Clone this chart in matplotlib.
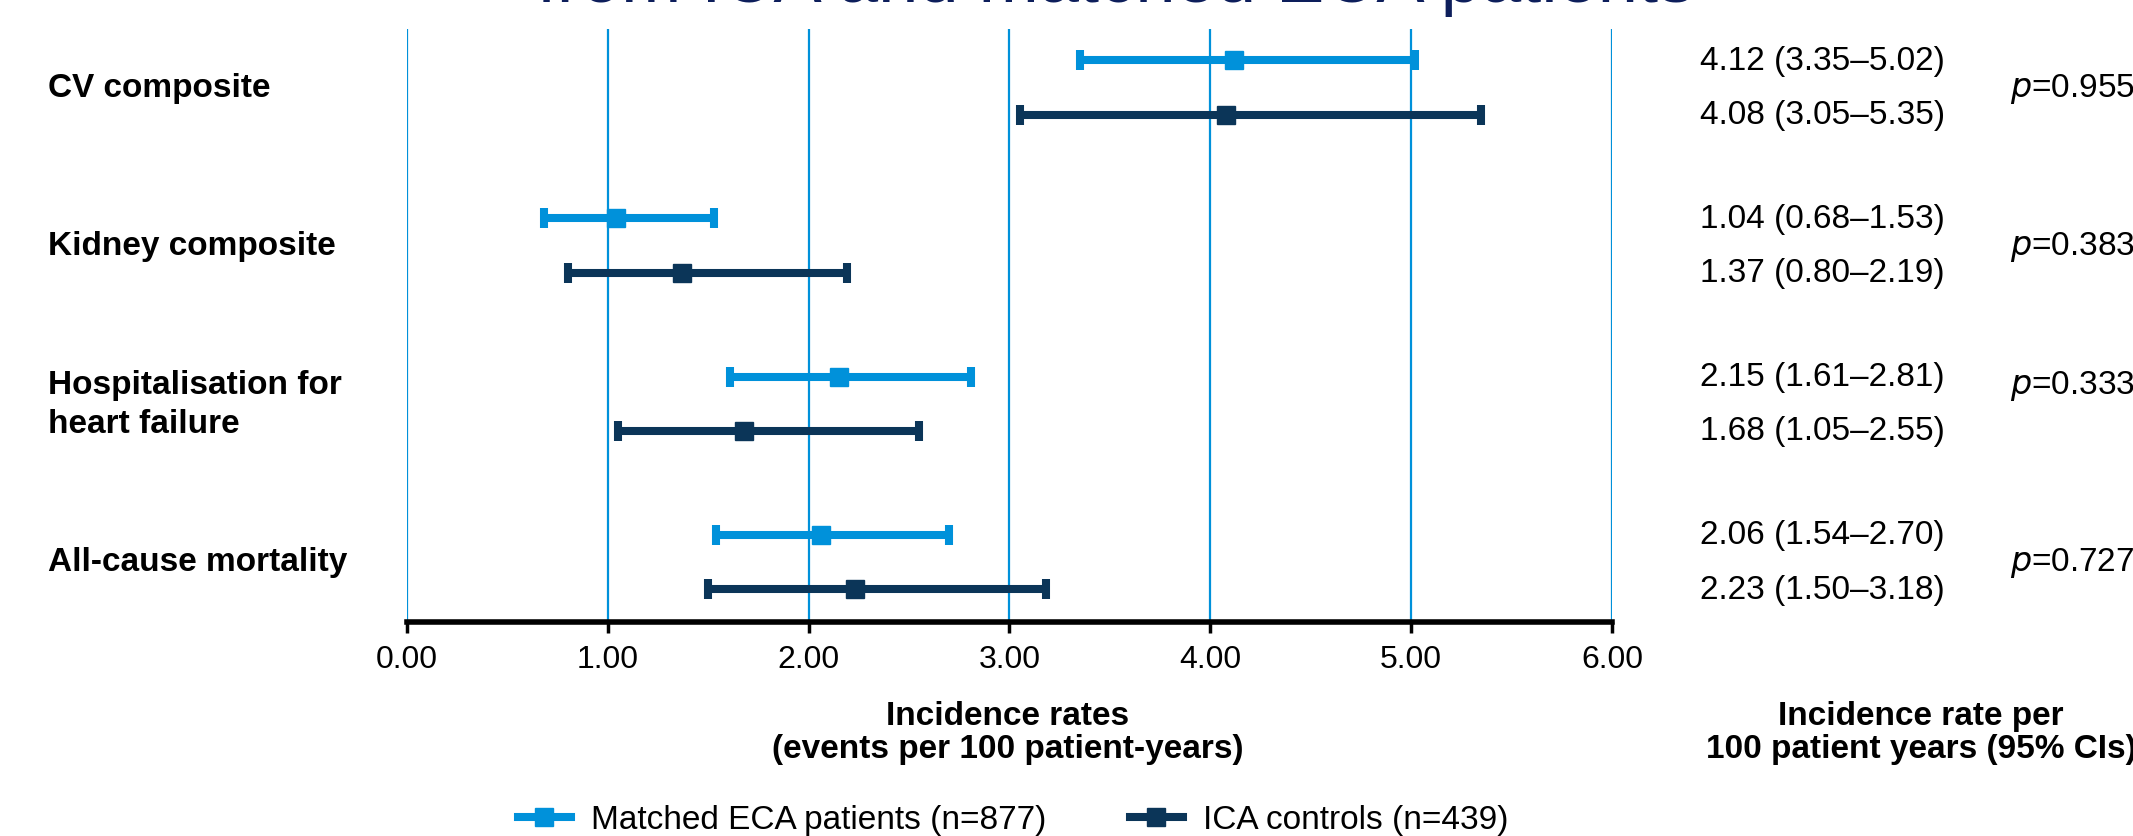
import matplotlib
matplotlib.use("Agg")
import matplotlib.pyplot as plt
import matplotlib.transforms as mtransforms
from matplotlib.lines import Line2D

plt.rcParams['font.family'] = ['Liberation Sans', 'DejaVu Sans']

# ---------------- data ----------------
categories = ["CV composite", "Kidney composite", "Hospitalisation for\nheart failure", "All-cause mortality"]
eca_rate = [4.12, 1.04, 2.15, 2.06]
eca_lo = [3.35, 0.68, 1.61, 1.54]
eca_hi = [5.02, 1.53, 2.81, 2.70]
ica_rate = [4.08, 1.37, 1.68, 2.23]
ica_lo = [3.05, 0.80, 1.05, 1.50]
ica_hi = [5.35, 2.19, 2.55, 3.18]
p_values = ["0.955", "0.383", "0.333", "0.727"]
x_ticks = [0, 1, 2, 3, 4, 5, 6]
eca_label = "Matched ECA patients (n=877)"
ica_label = "ICA controls (n=439)"
title_text = "from ICA and matched ECA patients"

# ---------------- style ----------------
BLUE = '#0091DA'
DARK = '#0B3558'
NAVY = '#0D1E5B'
W, H = 2133, 837
fig = plt.figure(figsize=(W / 100, H / 100), dpi=100)

ax = fig.add_axes([407 / W, 1 - 623 / H, 1205 / W, 593 / H])
ax.set_xlim(0, 6)
ax.set_ylim(3.38, -0.37)

off = 0.172
p_off = [0.0, 0.0, -0.117, 0.0]
ypos = list(range(len(categories)))

for rates, lo, hi, col, sign in [(eca_rate, eca_lo, eca_hi, BLUE, -1),
                                 (ica_rate, ica_lo, ica_hi, DARK, 1)]:
    ys = [y + sign * off for y in ypos]
    xerr = [[r - l for r, l in zip(rates, lo)], [h - r for r, h in zip(rates, hi)]]
    ax.errorbar(rates, ys, xerr=xerr, fmt='s', color=col, ecolor=col,
                markersize=13, elinewidth=5.8, capsize=7.5, capthick=5.8,
                zorder=3)

ax.set_xticks(x_ticks)
ax.set_xticklabels([f"{v:.2f}" for v in x_ticks], fontsize=23)
ax.set_yticks([])
ax.grid(axis='x', color=BLUE, lw=1.6, zorder=0)
ax.set_axisbelow(True)
for s in ['top', 'left', 'right']:
    ax.spines[s].set_visible(False)
ax.spines['bottom'].set_linewidth(4)
ax.spines['bottom'].set_color('black')
ax.tick_params(axis='x', length=8, width=2.5, pad=8, colors='black')

trans = mtransforms.blended_transform_factory(fig.transFigure, ax.transData)

# category labels
for y, c in zip(ypos, categories):
    fig.text(48 / W, y, c, transform=trans, ha='left', va='center',
             fontsize=24, fontweight='bold', linespacing=1.35)

# right-hand values
for y, r, l, h in zip(ypos, eca_rate, eca_lo, eca_hi):
    fig.text(1700 / W, y - off, f"{r:.2f} ({l:.2f}–{h:.2f})", transform=trans,
             ha='left', va='center', fontsize=24)
for y, r, l, h in zip(ypos, ica_rate, ica_lo, ica_hi):
    fig.text(1700 / W, y + off, f"{r:.2f} ({l:.2f}–{h:.2f})", transform=trans,
             ha='left', va='center', fontsize=24)
for y, p, po in zip(ypos, p_values, p_off):
    fig.text(2010 / W, y + po, f"$\\it{{p}}$={p}", transform=trans,
             ha='left', va='center', fontsize=24)

# axis titles
fig.text(1008 / W, 1 - 733 / H, "Incidence rates\n(events per 100 patient-years)",
         ha='center', va='center', fontsize=24, fontweight='bold', linespacing=1.1)
fig.text(1921 / W, 1 - 733 / H, "Incidence rate per\n100 patient years (95% CIs)",
         ha='center', va='center', fontsize=24, fontweight='bold', linespacing=1.1)

# cut-off title
fig.text(1116 / W, 1 - 2 / H, title_text, ha='center', va='baseline',
         fontsize=52, color=NAVY)

# legend
handles = [Line2D([0], [0], color=BLUE, lw=5.8, marker='s', markersize=13),
           Line2D([0], [0], color=DARK, lw=5.8, marker='s', markersize=13)]
fig.legend(handles, [eca_label, ica_label], loc='center',
           bbox_to_anchor=(1013 / W, 1 - 821 / H), ncol=2, frameon=False,
           fontsize=24, handlelength=1.6, handletextpad=0.6, columnspacing=2.5)

fig.savefig("out.png", dpi=100)
